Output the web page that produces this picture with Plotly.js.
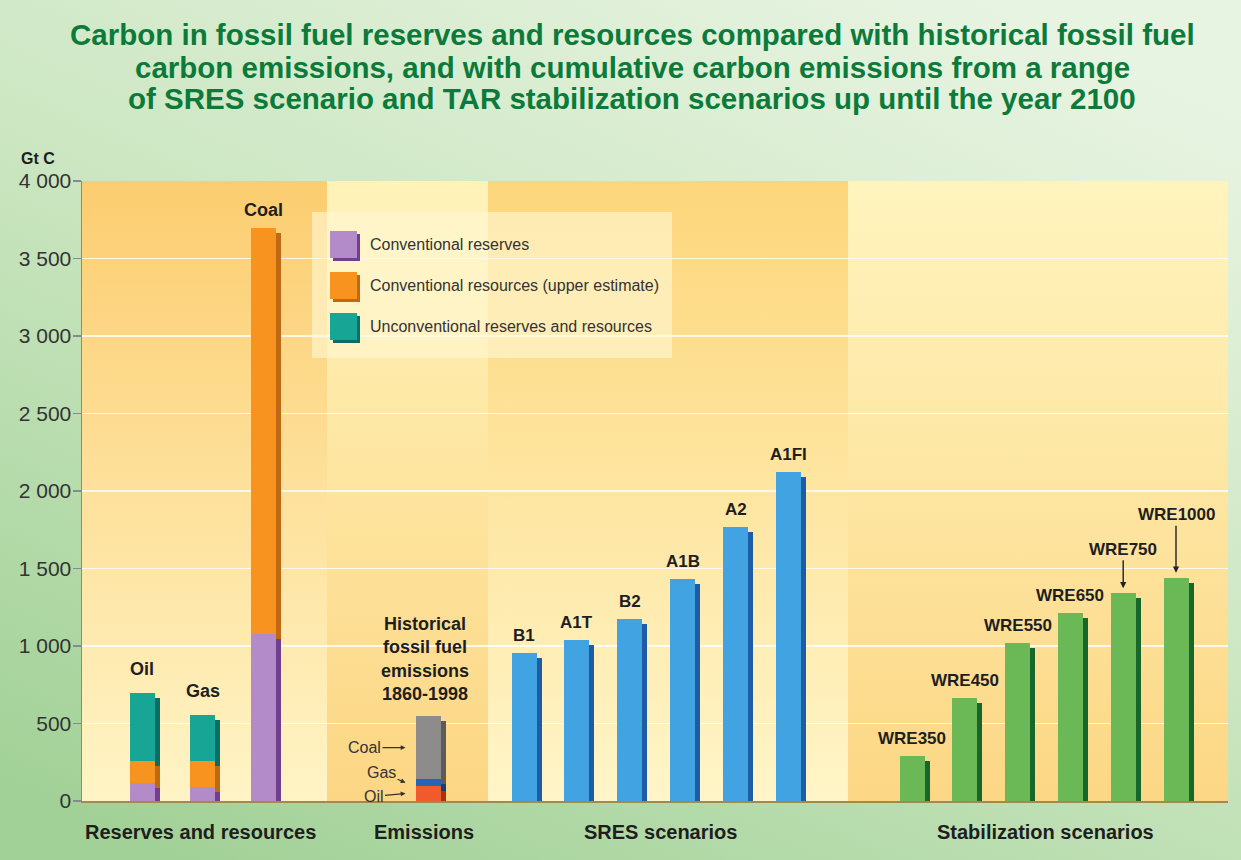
<!DOCTYPE html>
<html><head><meta charset="utf-8">
<script src="https://cdn.plot.ly/plotly-3.0.1.min.js"></script>
<style>html,body{margin:0;padding:0;background:#cfe6c4}#chart{width:1241px;height:860px}</style>
</head><body><div id="chart"></div>
<script>
// ---------------- data ----------------
const reserveCats = ['Oil', 'Gas', 'Coal'];
const conventionalReserves = [115, 90, 1080];
const conventionalResources = [140, 165, 2620];
const unconventional = [445, 300, 0];
const seriesNames = ['Conventional reserves', 'Conventional resources (upper estimate)', 'Unconventional reserves and resources'];

const emissionFuels = ['Oil', 'Gas', 'Coal'];
const emissionValues = [97, 43, 410];
const emissionTitle = 'Historical<br>fossil fuel<br>emissions<br>1860-1998';

const sresNames = ['B1', 'A1T', 'B2', 'A1B', 'A2', 'A1FI'];
const sresValues = [955, 1040, 1175, 1435, 1770, 2125];

const wreNames = ['WRE350', 'WRE450', 'WRE550', 'WRE650', 'WRE750', 'WRE1000'];
const wreValues = [290, 665, 1020, 1210, 1340, 1440];
const wreArrowed = ['WRE750', 'WRE1000'];

const groupLabels = ['Reserves and resources', 'Emissions', 'SRES scenarios', 'Stabilization scenarios'];
const yTickVals = [0, 500, 1000, 1500, 2000, 2500, 3000, 3500, 4000];
const yTickText = ['0', '500', '1 000', '1 500', '2 000', '2 500', '3 000', '3 500', '4 000'];
const titleLines = [
  'Carbon in fossil fuel reserves and resources compared with historical fossil fuel',
  'carbon emissions, and with cumulative carbon emissions from a range',
  'of SRES scenario and TAR stabilization scenarios up until the year 2100'
];

// ---------------- layout geometry / styles ----------------
const FONT = 'Liberation Sans, Arial, Helvetica, sans-serif';
const L = 82, R = 1228, T = 181, B = 801, W = 1241, H = 860;
const PW = R - L, PH = B - T, YMAX = 4000;
const X = px => px - L;
const Y = py => (B - py) * YMAX / PH;
const barW = 25, shDx = 5, shDy = 5 * YMAX / PH;

const resX = i => 60 + i * 60.5;
const emX = 346;
const sresX = i => 442 + i * 52.9;
const wreX = i => 830 + i * 52.8;

const C = {
  purple: ['#B48BC9', '#70408F'],
  orange: ['#F7931E', '#BF6A12'],
  teal: ['#17A596', '#0B6D64'],
  gray: ['#8E8C8A', '#5E5C5A'],
  blue: ['#2565B5', '#163D78'],
  red: ['#F15A2B', '#A8320F'],
  sres: ['#42A3E3', '#1C5DA6'],
  green: ['#6BB956', '#17672A']
};

const shadows = [], fronts = [];
function addBars(xs, bases, heights, col) {
  const sx = [], sb = [], sh = [];
  xs.forEach((x, i) => {
    const nb = Math.max(0, bases[i] - shDy);
    const top = bases[i] + heights[i] - shDy;
    if (heights[i] > 0 && top > nb) { sx.push(x + shDx); sb.push(nb); sh.push(top - nb); }
  });
  const common = {type: 'bar', width: barW, hoverinfo: 'skip', showlegend: false};
  shadows.push(Object.assign({}, common, {x: sx, base: sb, y: sh, marker: {color: col[1], line: {width: 0}}}));
  fronts.push(Object.assign({}, common, {x: xs, base: bases, y: heights, marker: {color: col[0], line: {width: 0}}}));
}

// reserves & resources (stacked)
const rx = reserveCats.map((_, i) => resX(i));
const zero3 = reserveCats.map(() => 0);
const b2 = conventionalReserves.slice();
const b3 = conventionalReserves.map((v, i) => v + conventionalResources[i]);
addBars(rx, zero3, conventionalReserves, C.purple);
addBars(rx, b2, conventionalResources, C.orange);
addBars(rx.filter((_, i) => unconventional[i] > 0), b3.filter((_, i) => unconventional[i] > 0), unconventional.filter(v => v > 0), C.teal);
const resTotals = reserveCats.map((_, i) => b3[i] + unconventional[i]);

// emissions (stacked)
const emCols = [C.red, C.blue, C.gray];
let acc = 0; const emBases = [];
emissionValues.forEach((v, i) => { emBases.push(acc); addBars([emX], [acc], [v], emCols[i]); acc += v; });
const emTotal = acc;

// SRES
addBars(sresNames.map((_, i) => sresX(i)), sresNames.map(() => 0), sresValues, C.sres);
// WRE
addBars(wreNames.map((_, i) => wreX(i)), wreNames.map(() => 0), wreValues, C.green);

const traces = shadows.concat(fronts);

// ---------------- gradients ----------------
function gradImg(stops, x1, y1, x2, y2) {
  const s = stops.map(([o, c]) => '<stop offset="' + o + '" stop-color="' + c + '"/>').join('');
  const svg = '<svg xmlns="http://www.w3.org/2000/svg" width="100" height="100" viewBox="0 0 100 100" preserveAspectRatio="none"><defs><linearGradient id="g" x1="' + x1 + '" y1="' + y1 + '" x2="' + x2 + '" y2="' + y2 + '">' + s + '</linearGradient></defs><rect x="0" y="0" width="100" height="100" fill="url(#g)"/></svg>';
  return 'data:image/svg+xml;charset=utf-8,' + encodeURIComponent(svg);
}
const bands = [
  [0, 245, '#FCCD70', '#FFF4C6'],
  [245, 406, '#FFF3BA', '#FCD684'],
  [406, 766, '#FDD67B', '#FFF5C8'],
  [766, 1146, '#FFF4BE', '#FCD785']
];
const images = [{
  source: gradImg([[0, '#E8F4E2'], [0.45, '#CDE7C3'], [1, '#A2D197']], 0.8, 0, 0.15, 1),
  xref: 'paper', yref: 'paper', x: -L / PW, y: 1 + T / PH, sizex: W / PW, sizey: H / PH,
  xanchor: 'left', yanchor: 'top', sizing: 'stretch', layer: 'below'
}].concat(bands.map(b => ({
  source: gradImg([[0, b[2]], [1, b[3]]], 0, 0, 0, 1),
  xref: 'x', yref: 'y', x: b[0], y: YMAX, sizex: b[1] - b[0], sizey: YMAX,
  xanchor: 'left', yanchor: 'top', sizing: 'stretch', layer: 'below'
})));

// ---------------- annotations ----------------
const ann = [];
// title lines
const titleY = [35, 67, 98];
titleLines.forEach((t, i) => ann.push({xref: 'paper', yref: 'paper', x: X(632) / PW, y: (B - titleY[i]) / PH, text: '<b>' + t + '</b>', showarrow: false, xanchor: 'center', yanchor: 'middle', font: {family: FONT, size: 29.5, color: '#0C7A3A'}}));

const lbl = (x, y, text, size, ys) => ann.push({x, y, text: '<b>' + text + '</b>', showarrow: false, xanchor: 'center', yanchor: 'bottom', yshift: ys, font: {family: FONT, size, color: '#1e1e1e'}});
reserveCats.forEach((c, i) => lbl(resX(i), resTotals[i], c, 18, i < 2 ? 12 : 6));
sresNames.forEach((n, i) => lbl(sresX(i), sresValues[i], n, 17, 6));
wreNames.forEach((n, i) => {
  if (wreArrowed.indexOf(n) >= 0) {
    ann.push({x: wreX(i), y: wreValues[i], text: '<b>' + n + '</b>', showarrow: true, arrowhead: 2, arrowsize: 0.9, arrowwidth: 1.4, arrowcolor: '#222', standoff: 5, ax: 0, ay: n === 'WRE750' ? -44 : -63, font: {family: FONT, size: 17, color: '#1e1e1e'}});
  } else lbl(wreX(i), wreValues[i], n, 17, 6);
});
// emissions title
ann.push({x: emX - 3, y: emTotal, text: '<b>' + emissionTitle + '</b>', showarrow: false, xanchor: 'center', yanchor: 'bottom', yshift: 10, font: {family: FONT, size: 18, color: '#1e1e1e'}});
// emission fuel arrows
const emAx = [-32, -24, -41], emAy = [3, -10, 0];
emissionFuels.forEach((f, i) => {
  ann.push({x: emX - barW / 2 - 10, y: emBases[i] + emissionValues[i] / 2, text: f, showarrow: true, arrowhead: 2, arrowsize: 0.8, arrowwidth: 1.2, arrowcolor: '#333', ax: emAx[i], ay: emAy[i], font: {family: FONT, size: 16, color: '#333'}});
});
// group labels
const groupCenters = [200, 424, 660, 1045];
groupLabels.forEach((g, i) => ann.push({xref: 'x', yref: 'paper', x: X(groupCenters[i]), y: -31 / PH, text: '<b>' + g + '</b>', showarrow: false, xanchor: 'center', yanchor: 'middle', font: {family: FONT, size: 20, color: '#1e1e1e'}}));
// unit
ann.push({xref: 'paper', yref: 'paper', x: (38 - L) / PW, y: 1 + (T - 158) / PH, text: '<b>Gt C</b>', showarrow: false, xanchor: 'center', yanchor: 'middle', font: {family: FONT, size: 16, color: '#1e1e1e'}});

// legend (custom)
const shapes = [{type: 'rect', xref: 'x', yref: 'y', x0: X(312), x1: X(672), y0: Y(358), y1: Y(212), fillcolor: 'rgba(255,249,214,0.6)', line: {width: 0}, layer: 'above'}];
const legCols = [C.purple, C.orange, C.teal];
seriesNames.forEach((n, i) => {
  const top = 231 + i * 41, sz = 27;
  shapes.push({type: 'rect', xref: 'x', yref: 'y', x0: X(330 + 3), x1: X(330 + sz + 3), y0: Y(top + sz + 3), y1: Y(top + 3), fillcolor: legCols[i][1], line: {width: 0}, layer: 'above'});
  shapes.push({type: 'rect', xref: 'x', yref: 'y', x0: X(330), x1: X(330 + sz), y0: Y(top + sz), y1: Y(top), fillcolor: legCols[i][0], line: {width: 0}, layer: 'above'});
  ann.push({x: X(368), y: Y(top + sz / 2), text: n, showarrow: false, xanchor: 'left', yanchor: 'middle', font: {family: FONT, size: 16, color: '#333'}});
});

const layout = {
  width: W, height: H,
  margin: {l: L, r: W - R, t: T, b: H - B, pad: 0},
  paper_bgcolor: '#cfe6c4', plot_bgcolor: 'rgba(0,0,0,0)',
  barmode: 'overlay', bargap: 0,
  showlegend: false,
  xaxis: {range: [0, PW], showticklabels: false, ticks: '', showgrid: false, zeroline: false, showline: true, linecolor: '#A08A4C', linewidth: 2, fixedrange: true},
  yaxis: {range: [0, YMAX], tickvals: yTickVals, ticktext: yTickText, ticks: 'outside', ticklen: 8, tickcolor: '#8a8a8a', tickwidth: 1.5,
          ticklabelstandoff: -3,
          showline: true, linecolor: '#8a8a8a', linewidth: 1.5, showgrid: true, gridcolor: 'rgba(255,255,255,0.8)', gridwidth: 1.2, zeroline: false,
          tickfont: {family: FONT, size: 21, color: '#333'}, fixedrange: true},
  images, shapes, annotations: ann
};
Plotly.newPlot('chart', traces, layout, {displayModeBar: false, staticPlot: true});
</script></body></html>
